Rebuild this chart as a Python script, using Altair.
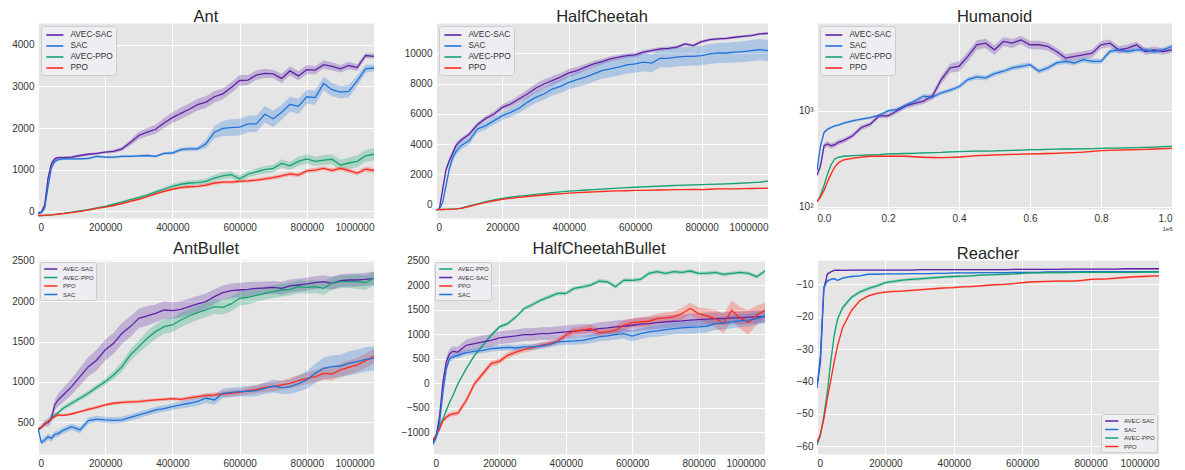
import altair as alt
import pandas as pd

# ---------------- data ----------------
STEPS_K = [0, 10, 20, 30, 40,
           50, 60, 75, 100, 125,
           150, 175, 200, 225, 250,
           275, 300, 325, 350, 375,
           400, 425, 450, 475, 500,
           525, 550, 575, 600, 625,
           650, 675, 700, 725, 750,
           775, 800, 825, 850, 875,
           900, 925, 950, 975, 1000]
X_TICKS = [0, 200000, 400000, 600000, 800000, 1000000]
METHODS = ["AVEC-SAC", "SAC", "AVEC-PPO", "PPO"]
METHOD_COLORS = ["#5E22A8", "#1F72DB", "#13A270", "#FF2B1C"]

# Ant
ANT_AVEC_SAC = [-40, -20, 150, 800, 1150, 1260, 1290, 1290, 1300, 1340, 1370, 1390, 1420, 1440, 1500,
                1650, 1820, 1900, 1970, 2120, 2250, 2350, 2450, 2560, 2620, 2750, 2820, 2970, 3140, 3150,
                3270, 3310, 3300, 3190, 3370, 3250, 3400, 3390, 3520, 3480, 3420, 3500, 3450, 3740, 3720]
ANT_AVEC_SAC_SD = [30, 30, 60, 80, 60, 40, 30, 30, 30, 30, 30, 30, 30, 40, 50,
                   70, 90, 100, 110, 120, 130, 140, 140, 140, 140, 140, 130, 130, 130, 120,
                   110, 110, 100, 110, 110, 110, 110, 100, 100, 100, 90, 90, 80, 60, 60]
ANT_SAC = [-40, -30, 80, 600, 1050, 1200, 1240, 1260, 1260, 1260, 1270, 1320, 1300, 1300, 1320,
           1320, 1330, 1340, 1320, 1390, 1400, 1480, 1500, 1500, 1620, 1900, 1990, 2010, 2020, 2100,
           2100, 2330, 2220, 2380, 2570, 2520, 2750, 2730, 3070, 2920, 2860, 2880, 3130, 3420, 3440]
ANT_SAC_SD = [30, 30, 60, 80, 60, 40, 30, 30, 30, 30, 30, 30, 30, 30, 30,
              30, 30, 30, 30, 30, 40, 50, 50, 50, 100, 150, 180, 200, 200, 200,
              200, 200, 200, 180, 180, 180, 170, 170, 160, 160, 150, 150, 130, 100, 80]
ANT_AVEC_PPO = [-100, -100, -95, -90, -85, -75, -65, -50, -20, 10, 40, 80, 120, 170, 220,
                280, 330, 390, 460, 530, 600, 650, 680, 690, 720, 800, 850, 880, 780, 890,
                950, 1000, 1030, 1150, 1090, 1200, 1260, 1200, 1230, 1250, 1110, 1160, 1200, 1330, 1370]
ANT_AVEC_PPO_SD = [10, 10, 10, 10, 10, 10, 10, 10, 15, 15, 20, 20, 20, 25, 30,
                   30, 40, 40, 50, 50, 60, 60, 60, 60, 70, 70, 80, 80, 80, 80,
                   80, 90, 90, 100, 100, 110, 110, 110, 120, 120, 130, 130, 140, 140, 150]
ANT_PPO = [-100, -100, -95, -90, -85, -80, -70, -55, -30, 0, 30, 70, 100, 140, 185,
           240, 290, 350, 420, 480, 530, 570, 590, 600, 630, 680, 700, 700, 720, 730,
           750, 780, 810, 850, 900, 870, 970, 990, 1030, 980, 1030, 980, 920, 1010, 980]
ANT_PPO_SD = [10, 10, 10, 10, 10, 10, 10, 10, 10, 10, 15, 15, 15, 20, 20,
              20, 25, 25, 30, 30, 30, 35, 35, 35, 40, 40, 40, 40, 40, 40,
              40, 45, 45, 50, 50, 50, 50, 50, 50, 50, 50, 55, 55, 60, 60]

# HalfCheetah
HC_AVEC_SAC = [-330, -290, 1000, 2300, 2900, 3400, 3900, 4250, 4650, 5300, 5700, 5990, 6430, 6650, 6980,
               7310, 7690, 7970, 8190, 8420, 8700, 8860, 9080, 9300, 9450, 9630, 9740, 9850, 9890, 10070,
               10180, 10290, 10330, 10400, 10620, 10510, 10770, 10900, 10950, 10990, 11060, 11120, 11170, 11280, 11320]
HC_AVEC_SAC_SD = [20, 50, 150, 200, 200, 200, 200, 150, 150, 150, 150, 180, 200, 220, 250,
                  280, 300, 300, 300, 280, 260, 240, 220, 200, 180, 170, 160, 150, 150, 140,
                  130, 120, 120, 110, 100, 100, 100, 90, 90, 90, 80, 80, 80, 80, 80]
HC_SAC = [-330, -310, 150, 1250, 2360, 3100, 3500, 3900, 4230, 5000, 5220, 5550, 5880, 6100, 6370,
          6760, 7090, 7310, 7640, 7820, 8080, 8260, 8420, 8640, 8860, 8970, 9080, 9230, 9300, 9410,
          9350, 9670, 9670, 9740, 9800, 9800, 9850, 9960, 10020, 10020, 10070, 10110, 10180, 10240, 10180]
HC_SAC_SD = [20, 30, 100, 200, 250, 250, 250, 250, 250, 250, 250, 250, 280, 300, 320,
             350, 380, 400, 420, 440, 460, 480, 500, 520, 540, 550, 560, 570, 580, 590,
             600, 600, 610, 620, 620, 630, 640, 650, 660, 670, 680, 690, 700, 700, 700]
HC_AVEC_PPO = [-330, -325, -320, -310, -300, -290, -275, -230, -80, 60, 200, 320, 420, 500, 570,
               620, 680, 730, 790, 840, 890, 930, 970, 1000, 1030, 1060, 1090, 1120, 1150, 1180,
               1200, 1230, 1250, 1270, 1290, 1310, 1330, 1345, 1360, 1380, 1400, 1420, 1450, 1490, 1560]
HC_AVEC_PPO_SD = [20, 20, 20, 20, 20, 20, 20, 20, 20, 20, 20, 20, 20, 20, 20,
                  20, 20, 20, 20, 20, 25, 25, 25, 25, 25, 25, 25, 25, 30, 30,
                  30, 30, 30, 30, 30, 30, 35, 35, 35, 35, 35, 40, 40, 40, 40]
HC_PPO = [-330, -325, -320, -315, -305, -295, -280, -250, -120, 20, 150, 260, 350, 420, 480,
          540, 590, 640, 690, 720, 760, 790, 820, 840, 870, 890, 910, 920, 940, 950,
          960, 970, 980, 990, 1000, 1010, 1000, 1020, 1040, 1050, 1050, 1060, 1070, 1080, 1090]
HC_PPO_SD = [20, 20, 20, 20, 20, 20, 20, 20, 20, 20, 20, 20, 20, 20, 20,
             20, 20, 20, 20, 20, 20, 20, 20, 20, 20, 20, 20, 20, 20, 20,
             25, 25, 25, 25, 25, 25, 25, 25, 25, 25, 30, 30, 30, 30, 30]

# Humanoid (log scale)
HUM_AVEC_SAC = [213, 270, 434, 452, 434, 445, 470, 490, 551, 672, 728, 888, 888, 1000, 1127,
                1200, 1269, 1430, 2127, 2808, 2922, 3704, 4898, 5094, 4341, 5300, 5094, 5510, 4898, 4898,
                4708, 4170, 3560, 3704, 3852, 4007, 4898, 5094, 4341, 4520, 4898, 4170, 4341, 4170, 4341]
HUM_AVEC_SAC_SD = [10, 20, 30, 30, 30, 30, 30, 30, 30, 40, 40, 50, 50, 60, 70,
                   80, 90, 120, 200, 300, 350, 450, 550, 550, 500, 550, 550, 550, 500, 500,
                   450, 400, 350, 350, 350, 400, 450, 450, 400, 400, 400, 350, 350, 300, 300]
HUM_SAC = [240, 434, 597, 646, 672, 700, 711, 746, 788, 820, 853, 902, 1000, 1040, 1144,
           1269, 1430, 1396, 1547, 1648, 1786, 2127, 2264, 2210, 2450, 2594, 2808, 2922, 3040, 2594,
           2808, 3164, 3292, 3164, 3426, 3292, 3292, 4170, 4341, 4170, 4341, 4341, 4170, 4341, 4708]
HUM_SAC_SD = [10, 20, 20, 20, 20, 20, 20, 20, 25, 25, 30, 30, 40, 40, 50,
              60, 70, 70, 80, 90, 100, 120, 130, 130, 150, 150, 170, 180, 180, 160,
              170, 190, 200, 190, 200, 200, 200, 250, 250, 250, 250, 250, 250, 250, 280]
HUM_AVEC_PPO = [113, 132, 168, 222, 277, 316, 329, 337, 342, 345, 348, 350, 356, 358, 360,
                362, 365, 368, 370, 374, 377, 379, 381, 382, 383, 386, 388, 391, 395, 396,
                397, 399, 401, 402, 403, 405, 407, 409, 410, 412, 414, 417, 420, 424, 428]
HUM_AVEC_PPO_SD = [3, 4, 5, 6, 6, 6, 6, 6, 6, 6, 6, 6, 6, 6, 6,
                   6, 6, 6, 6, 6, 6, 6, 6, 6, 6, 6, 6, 6, 6, 6,
                   6, 6, 6, 6, 6, 6, 6, 6, 6, 6, 6, 6, 6, 6, 6]
HUM_PPO = [113, 127, 149, 184, 222, 260, 288, 309, 321, 330, 337, 337, 337, 337, 337,
           333, 329, 327, 326, 328, 331, 336, 342, 345, 348, 350, 352, 354, 356, 358,
           360, 362, 365, 368, 372, 378, 385, 388, 390, 392, 395, 398, 401, 404, 407]
HUM_PPO_SD = [3, 4, 5, 6, 6, 6, 6, 6, 6, 6, 6, 6, 6, 6, 6,
              6, 6, 6, 6, 6, 6, 6, 6, 6, 6, 6, 6, 6, 6, 6,
              6, 6, 6, 6, 6, 6, 6, 6, 6, 6, 6, 6, 6, 6, 6]

# AntBullet
AB_AVEC_SAC = [405, 438, 488, 496, 550, 715, 777, 839, 942, 1066, 1190, 1273, 1397, 1479, 1603,
               1686, 1789, 1818, 1851, 1892, 1884, 1900, 1934, 1967, 1996, 2058, 2107, 2132, 2140, 2149,
               2161, 2165, 2173, 2161, 2190, 2202, 2215, 2231, 2244, 2223, 2256, 2264, 2264, 2273, 2285]
AB_AVEC_SAC_SD = [20, 30, 40, 50, 60, 70, 80, 90, 100, 110, 120, 130, 130, 130, 130,
                  130, 120, 120, 110, 110, 100, 100, 100, 100, 100, 90, 90, 90, 90, 90,
                  80, 80, 80, 80, 80, 80, 80, 80, 80, 80, 80, 80, 80, 80, 80]
AB_AVEC_PPO = [405, 440, 480, 510, 545, 591, 620, 674, 736, 798, 860, 934, 1004, 1087, 1190,
               1335, 1438, 1541, 1624, 1686, 1707, 1768, 1818, 1859, 1892, 1934, 1925, 1967, 2037, 2050,
               2074, 2099, 2120, 2140, 2149, 2182, 2173, 2182, 2161, 2223, 2244, 2244, 2244, 2231, 2285]
AB_AVEC_PPO_SD = [10, 10, 15, 15, 20, 20, 20, 25, 30, 30, 30, 35, 40, 50, 60,
                  70, 80, 90, 90, 90, 90, 90, 90, 90, 90, 90, 90, 90, 90, 90,
                  80, 80, 80, 80, 80, 80, 80, 80, 80, 80, 80, 80, 90, 90, 90]
AB_PPO = [420, 440, 470, 510, 540, 570, 591, 587, 603, 632, 661, 686, 715, 736, 748,
          752, 756, 769, 777, 785, 793, 785, 802, 818, 831, 839, 851, 860, 872, 893,
          909, 934, 942, 963, 983, 1016, 1045, 1066, 1107, 1099, 1149, 1182, 1211, 1264, 1322]
AB_PPO_SD = [10, 10, 15, 15, 15, 15, 15, 15, 15, 15, 20, 20, 20, 20, 20,
             20, 20, 20, 20, 20, 20, 20, 25, 25, 30, 30, 35, 40, 40, 45,
             50, 55, 60, 60, 65, 70, 70, 75, 80, 80, 80, 85, 85, 90, 90]
AB_SAC = [420, 250, 280, 320, 300, 350, 360, 400, 446, 405, 520, 540, 530, 525, 530,
          560, 591, 620, 653, 670, 694, 715, 736, 760, 798, 777, 860, 870, 880, 885,
          893, 920, 950, 930, 942, 980, 1025, 1107, 1170, 1190, 1198, 1231, 1252, 1281, 1293]
AB_SAC_SD = [10, 30, 40, 40, 40, 40, 40, 40, 40, 40, 40, 40, 40, 40, 40,
             40, 40, 40, 40, 40, 40, 45, 50, 55, 60, 60, 60, 60, 60, 65,
             70, 70, 80, 80, 90, 100, 110, 120, 130, 140, 140, 150, 150, 150, 150]

# HalfCheetahBullet
HCB_AVEC_PPO = [-1170, -1034, -864, -727, -556, -386, -250, -11, 296, 569, 774, 979, 1149, 1217, 1354,
                1524, 1606, 1695, 1763, 1832, 1832, 1934, 1968, 2002, 2084, 2070, 1970, 2104, 2100, 2118,
                2241, 2275, 2241, 2275, 2261, 2289, 2241, 2241, 2261, 2220, 2241, 2261, 2241, 2173, 2289]
HCB_AVEC_PPO_SD = [20, 20, 20, 25, 25, 30, 30, 30, 35, 35, 40, 40, 40, 40, 40,
                   40, 40, 40, 40, 40, 40, 40, 40, 40, 40, 40, 40, 40, 40, 40,
                   40, 40, 40, 40, 40, 40, 40, 40, 40, 40, 40, 40, 40, 40, 40]
HCB_AVEC_SAC = [-1200, -1068, -659, 23, 433, 603, 651, 637, 774, 808, 842, 876, 924, 945, 965,
                992, 992, 1013, 1013, 1033, 1047, 1061, 1081, 1081, 1115, 1129, 1149, 1163, 1183, 1204,
                1217, 1238, 1252, 1265, 1272, 1286, 1299, 1306, 1320, 1320, 1333, 1333, 1347, 1354, 1361]
HCB_AVEC_SAC_SD = [20, 30, 50, 80, 100, 100, 100, 110, 120, 130, 130, 130, 130, 130, 130,
                   130, 130, 130, 130, 130, 130, 130, 130, 130, 130, 130, 130, 130, 130, 130,
                   130, 130, 130, 130, 130, 130, 130, 130, 130, 130, 130, 130, 130, 130, 130]
HCB_PPO = [-1150, -1068, -932, -761, -693, -645, -625, -611, -352, -11, 194, 399, 447, 569, 637,
           692, 726, 774, 808, 856, 979, 1067, 1081, 1115, 1033, 1047, 1081, 1183, 1238, 1252,
           1265, 1320, 1333, 1354, 1422, 1524, 1422, 1374, 1320, 1217, 1490, 1333, 1238, 1388, 1490]
HCB_PPO_SD = [20, 30, 40, 50, 50, 50, 50, 50, 60, 60, 60, 60, 60, 60, 60,
              60, 60, 60, 60, 60, 60, 70, 70, 80, 80, 80, 90, 90, 90, 100,
              100, 100, 110, 110, 120, 120, 130, 150, 180, 200, 200, 220, 250, 200, 150]
HCB_SAC = [-1250, -1102, -795, -181, 296, 501, 535, 569, 624, 651, 672, 706, 719, 733, 719,
           740, 740, 760, 788, 842, 856, 863, 876, 910, 945, 965, 992, 1013, 960, 1013,
           1047, 1067, 1095, 1115, 1129, 1142, 1149, 1163, 1217, 1231, 1252, 1272, 1286, 1320, 1374]
HCB_SAC_SD = [20, 30, 50, 60, 60, 60, 60, 60, 60, 60, 60, 60, 60, 60, 60,
              60, 60, 60, 60, 70, 70, 80, 80, 90, 90, 100, 100, 100, 110, 110,
              110, 120, 120, 120, 120, 130, 130, 130, 130, 130, 130, 130, 130, 130, 130]

# Reacher
RE_AVEC_SAC = [-42, -34, -11.5, -6.9, -6.2, -5.7, -5.6, -5.7, -5.6, -5.6, -5.6, -5.6, -5.6, -5.6, -5.6,
               -5.6, -5.5, -5.5, -5.5, -5.5, -5.5, -5.5, -5.5, -5.5, -5.5, -5.5, -5.5, -5.4, -5.4, -5.4,
               -5.4, -5.4, -5.4, -5.3, -5.3, -5.3, -5.3, -5.3, -5.3, -5.3, -5.2, -5.2, -5.2, -5.2, -5.2]
RE_AVEC_SAC_SD = [0.5, 0.8, 0.8, 0.5, 0.3, 0.2, 0.2, 0.2, 0.2, 0.2, 0.2, 0.2, 0.2, 0.2, 0.2,
                  0.2, 0.2, 0.2, 0.2, 0.2, 0.2, 0.2, 0.2, 0.2, 0.2, 0.2, 0.2, 0.2, 0.2, 0.2,
                  0.2, 0.2, 0.2, 0.2, 0.2, 0.2, 0.2, 0.2, 0.2, 0.2, 0.2, 0.2, 0.2, 0.2, 0.2]
RE_SAC = [-41.8, -32, -11, -9, -8.5, -8.3, -8.8, -8.1, -7.6, -7.4, -6.9, -6.9, -6.8, -6.8, -6.8,
          -6.7, -6.7, -6.7, -6.6, -6.6, -6.5, -6.5, -6.5, -6.4, -6.4, -6.4, -6.4, -6.3, -6.3, -6.3,
          -6.3, -6.2, -6.2, -6.2, -6.2, -6.1, -6.1, -6.1, -6.1, -6.1, -6.1, -6.1, -6.1, -6.1, -6.1]
RE_SAC_SD = [0.5, 0.8, 0.8, 0.5, 0.3, 0.3, 0.3, 0.3, 0.3, 0.2, 0.2, 0.2, 0.2, 0.2, 0.2,
             0.2, 0.2, 0.2, 0.2, 0.2, 0.2, 0.2, 0.2, 0.2, 0.2, 0.2, 0.2, 0.2, 0.2, 0.2,
             0.2, 0.2, 0.2, 0.2, 0.2, 0.2, 0.2, 0.2, 0.2, 0.2, 0.2, 0.2, 0.2, 0.2, 0.2]
RE_AVEC_PPO = [-59.6, -56.7, -50.6, -43.4, -34.1, -25.9, -20.8, -17.2, -14.1, -12.4, -11.3, -10.5, -9.5, -9.1, -8.7,
               -8.5, -8.3, -8.1, -7.9, -7.7, -7.6, -7.5, -7.4, -7.2, -7.1, -7.0, -6.9, -6.8, -6.6, -6.5,
               -6.5, -6.4, -6.4, -6.4, -6.3, -6.3, -6.3, -6.3, -6.3, -6.3, -6.3, -6.3, -6.2, -6.2, -6.2]
RE_AVEC_PPO_SD = [0.5, 0.6, 0.7, 0.8, 0.8, 0.8, 0.8, 0.7, 0.6, 0.6, 0.6, 0.6, 0.5, 0.5, 0.5,
                  0.5, 0.5, 0.4, 0.4, 0.4, 0.4, 0.4, 0.4, 0.3, 0.3, 0.3, 0.3, 0.3, 0.3, 0.3,
                  0.3, 0.3, 0.3, 0.3, 0.3, 0.3, 0.3, 0.3, 0.3, 0.3, 0.3, 0.3, 0.3, 0.3, 0.3]
RE_PPO = [-58.8, -56.2, -51.6, -45.4, -39.8, -34.1, -29, -23.3, -18.2, -15.1, -13.6, -12.8, -12.4, -12.2, -12.1,
          -11.9, -11.7, -11.5, -11.3, -11.1, -11, -10.8, -10.7, -10.5, -10.3, -10.1, -10, -9.8, -9.5, -9.3,
          -9.2, -9.1, -9.0, -9.0, -9.0, -8.8, -8.5, -8.4, -8.3, -8.1, -7.9, -7.7, -7.6, -7.5, -7.4]
RE_PPO_SD = [0.5, 0.5, 0.5, 0.5, 0.5, 0.5, 0.5, 0.4, 0.4, 0.3, 0.3, 0.3, 0.3, 0.3, 0.3,
             0.3, 0.3, 0.3, 0.3, 0.3, 0.3, 0.3, 0.3, 0.3, 0.3, 0.3, 0.3, 0.3, 0.3, 0.3,
             0.3, 0.3, 0.3, 0.3, 0.3, 0.3, 0.3, 0.3, 0.3, 0.3, 0.3, 0.3, 0.3, 0.3, 0.3]

COLOR_OF = dict(zip(METHODS, METHOD_COLORS))
FONT = "Liberation Sans"
LEGEND_LINE = "M-0.7,0H2.6"


def build_frame(series):
    rows = []
    for name, mean, sd in series:
        for k, m, d in zip(STEPS_K, mean, sd):
            rows.append({"step": k * 1000, "method": name, "band_color": COLOR_OF[name],
                         "mean": m, "lo": m - d, "hi": m + d})
    return pd.DataFrame(rows)


def make_legend(orient, small):
    if small:
        return alt.Legend(title=None, orient=orient, offset=2, fillColor="#EEEEF2",
                          strokeColor="#CCCCCC", cornerRadius=2, padding=2,
                          symbolType=LEGEND_LINE, symbolSize=64, symbolStrokeWidth=1.5,
                          labelFont=FONT, labelFontSize=6, labelColor="#333333",
                          rowPadding=0.5, labelOffset=11)
    return alt.Legend(title=None, orient=orient, offset=2.5, fillColor="#EEEEF2",
                      strokeColor="#CCCCCC", cornerRadius=3, padding=3,
                      symbolType=LEGEND_LINE, symbolSize=106, symbolStrokeWidth=1.6,
                      labelFont=FONT, labelFontSize=8.3, labelColor="#333333",
                      rowPadding=1, labelOffset=14.4)


def panel(title, series, y_domain, y_ticks, width, height, extent,
          legend_orient="top-left", small_legend=False, log=False, humanoid=False):
    df = build_frame(series)
    order = [s[0] for s in series]
    crange = [COLOR_OF[m] for m in order]
    if log:
        yscale = alt.Scale(type="log", domain=y_domain, nice=False)
        yaxis = alt.Axis(values=y_ticks, title=None, minExtent=extent, maxExtent=extent,
                         labelExpr="datum.value == 100 ? '10²' : (datum.value == 1000 ? '10³' : '')")
    else:
        yscale = alt.Scale(domain=y_domain, nice=False, zero=False)
        yaxis = alt.Axis(values=y_ticks, title=None, format="d",
                         minExtent=extent, maxExtent=extent)
    xscale = alt.Scale(domain=[0, 1000000], nice=False, zero=False)
    if humanoid:
        xaxis = alt.Axis(values=X_TICKS, title="1e6", titleFontSize=6, titleAnchor="end",
                         titlePadding=2, titleFontWeight="normal", titleColor="#333333",
                         titleFont=FONT,
                         labelExpr="format(datum.value / 1000000, '.1f')")
    else:
        xaxis = alt.Axis(values=X_TICKS, title=None, format="d")

    base = alt.Chart(df)
    band = base.mark_area(opacity=0.27, clip=True).encode(
        x=alt.X("step:Q", scale=xscale, axis=xaxis),
        y=alt.Y("lo:Q", scale=yscale, axis=yaxis, stack=None),
        y2="hi:Q",
        fill=alt.Fill("band_color:N", scale=None),
        detail="method:N",
    )
    line = base.mark_line(strokeWidth=1.3, clip=True).encode(
        x=alt.X("step:Q", scale=xscale, axis=xaxis),
        y=alt.Y("mean:Q", scale=yscale, axis=yaxis),
        color=alt.Color("method:N", scale=alt.Scale(domain=order, range=crange),
                        legend=make_legend(legend_orient, small_legend)),
    )
    return alt.layer(band, line).properties(title=title, width=width, height=height)


ant = panel("Ant", [("AVEC-SAC", ANT_AVEC_SAC, ANT_AVEC_SAC_SD), ("SAC", ANT_SAC, ANT_SAC_SD),
                    ("AVEC-PPO", ANT_AVEC_PPO, ANT_AVEC_PPO_SD), ("PPO", ANT_PPO, ANT_PPO_SD)],
            [-160, 4520], [0, 1000, 2000, 3000, 4000], 336, 195, 29)
hc = panel("HalfCheetah", [("AVEC-SAC", HC_AVEC_SAC, HC_AVEC_SAC_SD), ("SAC", HC_SAC, HC_SAC_SD),
                           ("AVEC-PPO", HC_AVEC_PPO, HC_AVEC_PPO_SD), ("PPO", HC_PPO, HC_PPO_SD)],
           [-880, 12000], [0, 2000, 4000, 6000, 8000, 10000], 332, 195, 52)
hum = panel("Humanoid", [("AVEC-SAC", HUM_AVEC_SAC, HUM_AVEC_SAC_SD), ("SAC", HUM_SAC, HUM_SAC_SD),
                         ("AVEC-PPO", HUM_AVEC_PPO, HUM_AVEC_PPO_SD), ("PPO", HUM_PPO, HUM_PPO_SD)],
            [95, 8260], [100, 1000], 355, 186, 39, log=True, humanoid=True)
antb = panel("AntBullet", [("AVEC-SAC", AB_AVEC_SAC, AB_AVEC_SAC_SD), ("AVEC-PPO", AB_AVEC_PPO, AB_AVEC_PPO_SD),
                           ("PPO", AB_PPO, AB_PPO_SD), ("SAC", AB_SAC, AB_SAC_SD)],
             [107, 2512], [500, 1000, 1500, 2000, 2500], 336, 194, 29, small_legend=True)
hcb = panel("HalfCheetahBullet", [("AVEC-PPO", HCB_AVEC_PPO, HCB_AVEC_PPO_SD),
                                  ("AVEC-SAC", HCB_AVEC_SAC, HCB_AVEC_SAC_SD),
                                  ("PPO", HCB_PPO, HCB_PPO_SD), ("SAC", HCB_SAC, HCB_SAC_SD)],
            [-1443, 2514], [-1000, -500, 0, 500, 1000, 1500, 2000, 2500], 332, 194, 52,
            small_legend=True)
rea = panel("Reacher", [("AVEC-SAC", RE_AVEC_SAC, RE_AVEC_SAC_SD), ("SAC", RE_SAC, RE_SAC_SD),
                        ("AVEC-PPO", RE_AVEC_PPO, RE_AVEC_PPO_SD), ("PPO", RE_PPO, RE_PPO_SD)],
            [-62.4, -2.5], [-60, -50, -40, -30, -20, -10], 342, 194, 45,
            legend_orient="bottom-right", small_legend=True)

row1 = alt.hconcat(ant, hc, hum, spacing=8).resolve_scale(
    color="independent", y="independent").resolve_legend(color="independent")
row2 = alt.hconcat(antb, hcb, rea, spacing=5).resolve_scale(
    color="independent", y="independent").resolve_legend(color="independent")

chart = alt.vconcat(row1, row2, spacing=7).resolve_scale(
    color="independent").resolve_legend(color="independent").properties(
    padding={"left": 0, "top": 0, "right": 0, "bottom": 0}
).configure_view(
    fill="#E5E5E5", stroke="transparent"
).configure_axis(
    labelFont=FONT, labelFontSize=10, labelColor="#333333", ticks=False, domain=False,
    gridColor="#FFFFFF", gridWidth=1, gridOpacity=1, labelPadding=4
).configure_title(
    font=FONT, fontSize=16.5, fontWeight="normal", color="#262626", offset=-2,
    baseline="alphabetic", anchor="middle"
)

chart.save("out.html", embed_options={"renderer": "svg", "actions": False})
